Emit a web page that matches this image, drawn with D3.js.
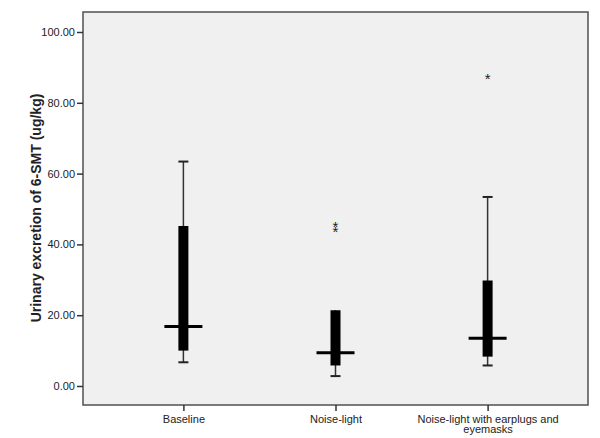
<!DOCTYPE html>
<html>
<head>
<meta charset="utf-8">
<script src="https://cdn.jsdelivr.net/npm/d3@7"></script>
<style>
  body { margin: 0; background: #fff; }
  text { font-family: "Liberation Sans", Arial, sans-serif; }
</style>
</head>
<body>
<div id="chart-area"></div>
<script>
const WIDTH = 600, HEIGHT = 438
const FRAME = {LEFT:83, RIGHT:588, TOP:12, BOTTOM:405}

// box plot data
const categories = ["Baseline", "Noise-light", "Noise-light with earplugs and eyemasks"]
const whiskerLow = [6.7, 2.8, 5.8]
const q1 = [10.0, 5.8, 8.3]
const medians = [16.8, 9.4, 13.5]
const q3 = [45.2, 21.4, 29.8]
const whiskerHigh = [63.4, 21.4, 53.4]
const outliers = [[], [45.4, 44.2], [87.4]]
const yTicks = [0, 20, 40, 60, 80, 100]

const data = categories.map((c, i) => ({
  name: c, lo: whiskerLow[i], q1: q1[i], med: medians[i],
  q3: q3[i], hi: whiskerHigh[i], out: outliers[i]
}))

const svg = d3.select("#chart-area").append("svg")
  .attr("width", WIDTH)
  .attr("height", HEIGHT)

const x = d3.scalePoint()
  .domain(categories)
  .range([FRAME.LEFT, FRAME.RIGHT])
  .padding(0.66)

const y = d3.scaleLinear()
  .domain([0, 100])
  .range([386, 32])

// plot background and frame
svg.append("rect")
  .attr("x", FRAME.LEFT)
  .attr("y", FRAME.TOP)
  .attr("width", FRAME.RIGHT - FRAME.LEFT)
  .attr("height", FRAME.BOTTOM - FRAME.TOP)
  .attr("fill", "#f0f0f0")
  .attr("stroke", "#505050")
  .attr("stroke-width", 1.5)

// y axis
const yAxisCall = d3.axisLeft(y)
  .tickValues(yTicks)
  .tickSize(6)
  .tickPadding(2)
  .tickFormat(d3.format(".2f"))
const yAxis = svg.append("g")
  .attr("transform", `translate(${FRAME.LEFT},0)`)
  .call(yAxisCall)
yAxis.select(".domain").remove()
yAxis.selectAll("line").attr("stroke", "#333").attr("stroke-width", 1.5)
yAxis.selectAll("text").attr("font-size", 11).attr("fill", "#222")

// x axis
const xAxisCall = d3.axisBottom(x).tickSize(6).tickPadding(4)
const xAxis = svg.append("g")
  .attr("transform", `translate(0,${FRAME.BOTTOM})`)
  .call(xAxisCall)
xAxis.select(".domain").remove()
xAxis.selectAll("line").attr("stroke", "#333").attr("stroke-width", 1.5)
xAxis.selectAll("text").remove()
xAxis.selectAll(".tick").each(function(d) {
  const lines = d === categories[2] ? ["Noise-light with earplugs and", "eyemasks"] : [d]
  const t = d3.select(this).append("text")
    .attr("fill", "#222")
    .attr("font-size", 11)
    .attr("text-anchor", "middle")
  lines.forEach((l, i) => {
    t.append("tspan").attr("x", 0).attr("y", 18 + i * 10).text(l)
  })
})

// y label
svg.append("text")
  .attr("transform", `translate(41,208) rotate(-90)`)
  .attr("text-anchor", "middle")
  .attr("font-size", 14)
  .attr("font-weight", "bold")
  .attr("fill", "#222")
  .text("Urinary excretion of 6-SMT (ug/kg)")

const boxes = svg.selectAll(".box")
  .data(data)
  .enter().append("g")
    .attr("class", "box")
    .attr("transform", d => `translate(${x(d.name)},0)`)

// whiskers
boxes.append("line")
  .attr("x1", 0).attr("x2", 0)
  .attr("y1", d => y(d.lo)).attr("y2", d => y(d.hi))
  .attr("stroke", "#333").attr("stroke-width", 1.5)
boxes.selectAll(".cap")
  .data(d => d.hi > d.q3 ? [d.lo, d.hi] : [d.lo])
  .enter().append("line")
    .attr("x1", -5).attr("x2", 5)
    .attr("y1", v => y(v)).attr("y2", v => y(v))
    .attr("stroke", "#222").attr("stroke-width", 2)

// boxes
boxes.append("rect")
  .attr("x", -5)
  .attr("width", 10)
  .attr("y", d => y(d.q3))
  .attr("height", d => y(d.q1) - y(d.q3))
  .attr("fill", "#000")

// medians
boxes.append("line")
  .attr("x1", -19).attr("x2", 19)
  .attr("y1", d => y(d.med)).attr("y2", d => y(d.med))
  .attr("stroke", "#000").attr("stroke-width", 3)

// outliers
boxes.selectAll(".out")
  .data(d => d.out)
  .enter().append("text")
    .attr("x", 0)
    .attr("y", v => y(v) + 7)
    .attr("text-anchor", "middle")
    .attr("font-size", 15)
    .attr("fill", "#222")
    .text("*")
</script>
</body>
</html>
